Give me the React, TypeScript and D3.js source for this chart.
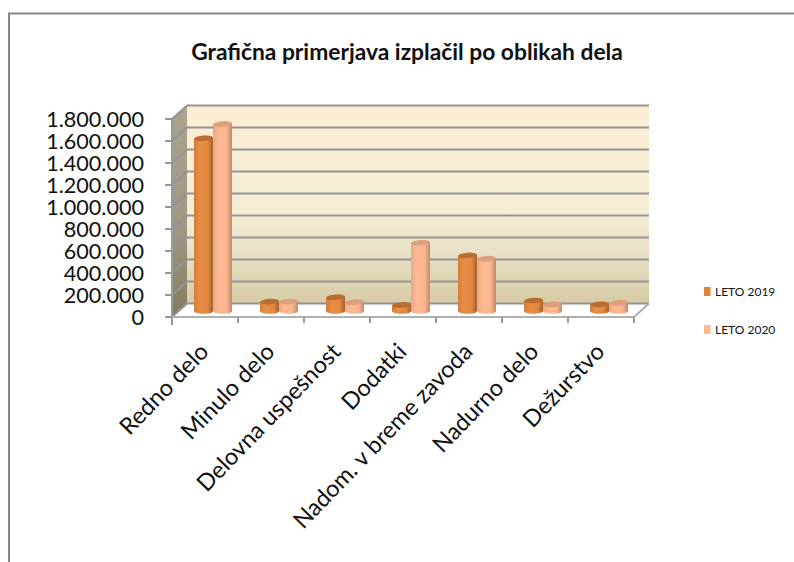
import React from "react";
import * as d3 from "d3";

const categories = ["Redno delo", "Minulo delo", "Delovna uspešnost", "Dodatki", "Nadom. v breme zavoda", "Nadurno delo", "Dežurstvo"];
const leto2019 = [1570000, 85000, 125000, 55000, 505000, 95000, 60000];
const leto2020 = [1700000, 85000, 80000, 620000, 475000, 60000, 75000];
const yTicks = [0, 200000, 400000, 600000, 800000, 1000000, 1200000, 1400000, 1600000, 1800000];
const seriesNames = ["LETO 2019", "LETO 2020"];
const title = "Grafična primerjava izplačil po oblikah dela";

const font = "Lato, 'Open Sans', sans-serif";
const fmt = (v: number) => (v === 0 ? "0" : d3.format(",")(v).replace(/,/g, "."));

const dx = 15;
const dy = 12.5;
const x0 = 172;
const x1 = 634;
const yZero = 317;
const yTop = 119;

export default function App() {
  const y = d3.scaleLinear().domain([0, 1800000]).range([yZero, yTop]);
  const band = d3.scaleBand<string>().domain(categories).range([x0, x1]);
  const barBase = yZero - 5.5;
  const barH = (v: number) => y(0) - y(v);
  const barW = 19;
  const ry = 2.8;

  const bar = (v: number, cx: number, grad: string, top: string, key: string) => {
    const h = barH(v);
    const b = barBase;
    const t = b - h;
    const l = cx - barW / 2;
    const r = cx + barW / 2;
    const d = `M${l},${t} L${l},${b} A${barW / 2},${ry} 0 0 0 ${r},${b - 1} L${r},${t - 1} Z`;
    return (
      <g key={key}>
        <path d={d} fill={`url(#${grad})`} />
        <ellipse cx={cx} cy={t - 0.5} rx={barW / 2} ry={ry} transform={`rotate(-4 ${cx} ${t - 0.5})`} fill={top} />
      </g>
    );
  };

  return (
    <svg width={794} height={562} style={{ position: "absolute", left: 0, top: 0, background: "#fff" }}>
      <defs>
        <linearGradient id="wall" x1="0" y1="0" x2="0" y2="1">
          <stop offset="0" stopColor="#fdeed3" />
          <stop offset="0.55" stopColor="#f4edd6" />
          <stop offset="0.75" stopColor="#e8e0c5" />
          <stop offset="1" stopColor="#d7cba4" />
        </linearGradient>
        <linearGradient id="side" x1="0" y1="0" x2="0" y2="1">
          <stop offset="0" stopColor="#aba38d" />
          <stop offset="0.6" stopColor="#9c9784" />
          <stop offset="1" stopColor="#837c60" />
        </linearGradient>
        <linearGradient id="c19" x1="0" y1="0" x2="1" y2="0">
          <stop offset="0" stopColor="#d47c38" />
          <stop offset="0.3" stopColor="#e88d45" />
          <stop offset="0.7" stopColor="#e48941" />
          <stop offset="1" stopColor="#a1602c" />
        </linearGradient>
        <linearGradient id="c20" x1="0" y1="0" x2="1" y2="0">
          <stop offset="0" stopColor="#e8a885" />
          <stop offset="0.3" stopColor="#fdb992" />
          <stop offset="0.7" stopColor="#fbb690" />
          <stop offset="1" stopColor="#bb8a6e" />
        </linearGradient>
      </defs>

      <path d="M9,562 L9,13.5 L794,13.5" fill="none" stroke="#868686" strokeWidth={2} />

      <text x={407} y={60} textAnchor="middle" fontFamily={font} fontWeight={700} fontSize={22.8} fill="#111">{title}</text>

      <rect x={x0 + dx} y={yTop - dy - 1} width={x1 - x0} height={yZero - yTop} fill="url(#wall)" />
      <path d={`M${x0},${yTop} L${x0 + dx},${yTop - dy - 1} L${x0 + dx},${yZero - dy} L${x0},${yZero} Z`} fill="url(#side)" />
      <path d={`M${x0},${yZero} L${x0 + dx},${yZero - dy} L${x1 + dx},${yZero - dy} L${x1},${yZero} Z`} fill="#fff" />

      {yTicks.map((t) => (
        <path key={t} d={`M${x0 - 7},${y(t)} L${x0},${y(t)} L${x0 + dx},${y(t) - dy - 1} L${x1 + dx},${y(t) - dy - 1}`} stroke="#949492" strokeWidth={2} fill="none" />
      ))}
      <path d={`M${x0},${yTop} L${x0},${yZero + 8}`} stroke="#9a9a98" strokeWidth={2} fill="none" />
      <path d={`M${x0},${yZero} L${x1},${yZero} L${x1 + dx},${yZero - dy - 1}`} stroke="#b0b0ae" strokeWidth={2} fill="none" />
      {categories.map((c, i) => {
        const tx = (band(c) as number) + band.bandwidth();
        return <path key={i} d={`M${tx},${yZero} L${tx},${yZero + 6}`} stroke="#9a9a98" strokeWidth={2} />;
      })}

      {categories.map((c, i) => {
        const cx = (band(c) as number) + band.bandwidth() / 2 + 8;
        return (
          <g key={c}>
            {bar(leto2019[i], cx - barW / 2, "c19", "#b96e30", `a${i}`)}
            {bar(leto2020[i], cx + barW / 2, "c20", "#dd9f7c", `b${i}`)}
          </g>
        );
      })}

      {yTicks.map((t) => (
        <text key={t} x={144} y={y(t) + 7.5} textAnchor="end" fontFamily={font} fontSize={21.6} fill="#111">{fmt(t)}</text>
      ))}

      {categories.map((c) => {
        const cx = (band(c) as number) + band.bandwidth() / 2 + 5;
        return (
          <text key={c} transform={`translate(${cx},${yZero + 36}) rotate(-46)`} textAnchor="end" fontFamily={font} fontSize={23.4} fill="#111">{c}</text>
        );
      })}

      {seriesNames.map((s, i) => (
        <g key={s}>
          <rect x={704} y={287 + i * 38} width={6.5} height={9} fill={i === 0 ? "#e08435" : "#fdb792"} />
          <text x={715} y={296 + i * 38} fontFamily={font} fontSize={12} fill="#111">{s}</text>
        </g>
      ))}
    </svg>
  );
}
